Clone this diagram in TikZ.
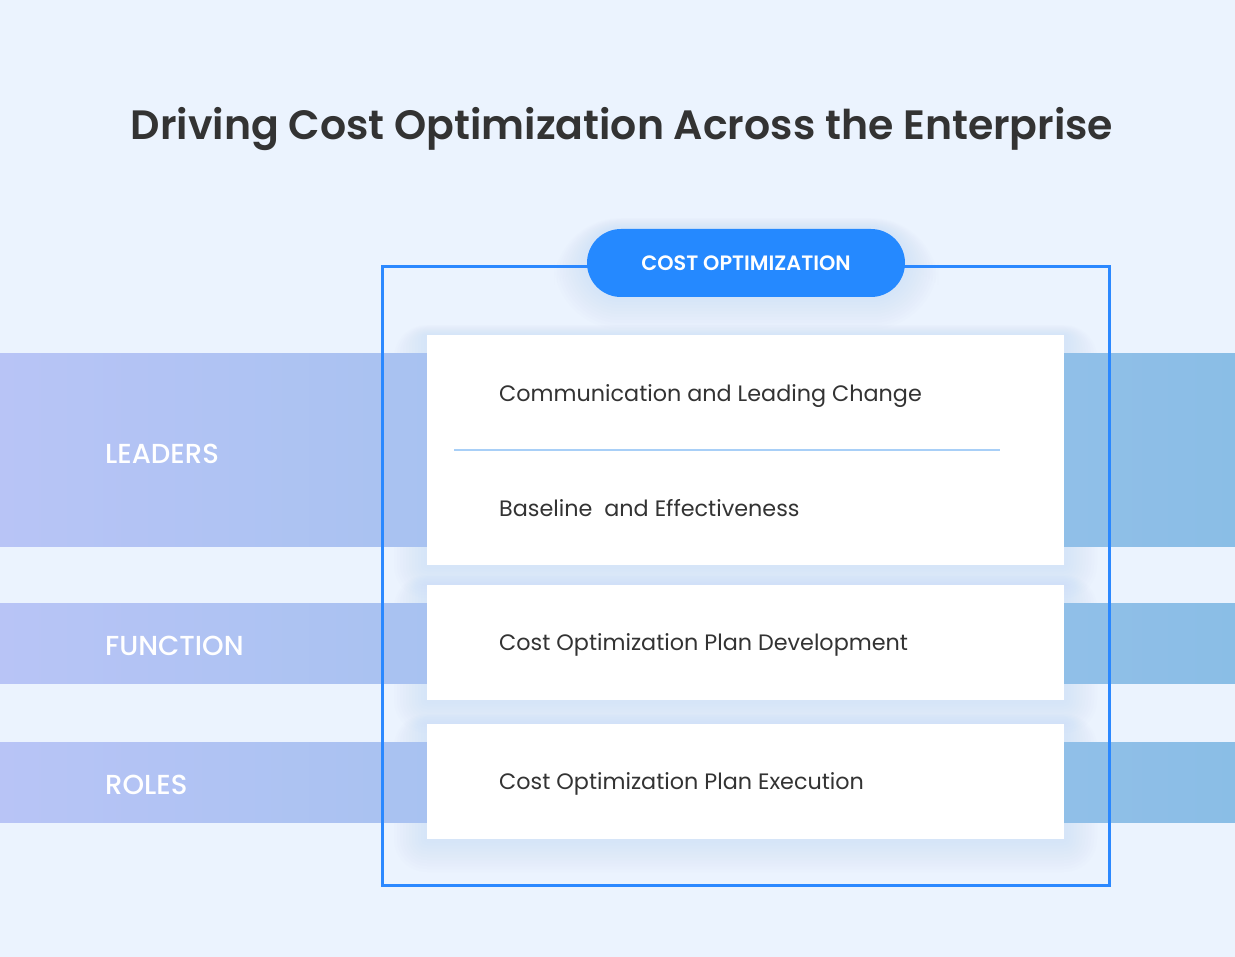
\documentclass[tikz,border=0pt]{standalone}
\usepackage{fontspec}
\setmainfont{Poppins}
\newfontfamily\medfont{Poppins Medium}
\newfontfamily\semifont{Poppins SemiBold}
\usetikzlibrary{positioning}

\definecolor{pagebg}{HTML}{EBF3FE}
\definecolor{inkgray}{HTML}{333333}
\definecolor{framebl}{HTML}{2B88FF}
\definecolor{pillbl}{HTML}{2589FF}
\definecolor{bandlav}{HTML}{B8C4F6}
\definecolor{bandmid}{HTML}{95BAEE}
\definecolor{bandsky}{HTML}{8ABEE6}
\definecolor{sepline}{HTML}{A8CFF7}
\definecolor{glowbl}{HTML}{C4DAF8}

\tikzset{
  card/.style={fill=white, minimum width=637pt, inner sep=0pt},
  item/.style={anchor=west, inner sep=0pt, text=inkgray, font=\fontsize{22.3}{26}\selectfont},
  bandlabel/.style={anchor=west, inner sep=0pt, text=white, font=\medfont\fontsize{27.5}{32}\selectfont},
  pill/.style={fill=pillbl, rounded corners=34pt, minimum width=318pt, minimum height=68pt,
    text=white, font=\semifont\fontsize{20.8}{25}\selectfont}
}

\begin{document}
\begin{tikzpicture}[x=1pt, y=-1pt]
  \fill[pagebg] (0,0) rectangle (1235,957);
  \useasboundingbox (0,0) rectangle (1235,957);

  \node[text=inkgray, font=\semifont\fontsize{41}{49}\selectfont] (title) at (622,129)
    {Driving Cost Optimization Across the Enterprise};

  % soft glow under the cards and the pill
  \foreach \g in {3,6,...,33} {
    \fill[glowbl, opacity=0.05, rounded corners=\g] (427-\g,335-0.3*\g) rectangle (1064+\g,565+\g);
    \fill[glowbl, opacity=0.05, rounded corners=\g] (427-\g,585-0.3*\g) rectangle (1064+\g,700+\g);
    \fill[glowbl, opacity=0.05, rounded corners=\g] (427-\g,724-0.3*\g) rectangle (1064+\g,839+\g);
    \fill[glowbl, opacity=0.05, rounded corners=34+\g] (587-\g,228-0.3*\g) rectangle (905+\g,296+\g);
  }

  % bands
  \shade[left color=bandlav, middle color=bandmid, right color=bandsky] (0,354) rectangle (1235,546);
  \shade[left color=bandlav, middle color=bandmid, right color=bandsky] (0,603) rectangle (1235,683);
  \shade[left color=bandlav, middle color=bandmid, right color=bandsky] (0,742) rectangle (1235,822);

  % frame
  \draw[framebl, line width=3pt] (382,267) rectangle (1109,885);

  % cards
  \node[card, minimum height=230pt] (lead) at (745.5,450) {};
  \node[card, minimum height=115pt] (func) at (745.5,642.5) {};
  \node[card, minimum height=115pt] (role) at (745.5,781.5) {};

  \coordinate (sepl) at (454,450);
  \coordinate (sepr) at (1000,450);
  \draw[sepline, line width=1.2pt] (sepl) -- (sepr);

  \node[item] (comm) at (499,396) {Communication and Leading Change};
  \node[item] (base) at (499,508) {Baseline\ \ and Effectiveness};
  \node[item] (plan) at (499,645) {Cost Optimization Plan Development};
  \node[item] (exec) at (499,784) {Cost Optimization Plan Execution};

  \node[bandlabel] (leaders) at (105,454) {LEADERS};
  \node[bandlabel] (function) at (105,646) {FUNCTION};
  \node[bandlabel] (roles) at (105,785) {ROLES};

  % header pill
  \node[pill] (costopt) at (746,263) {COST OPTIMIZATION};
\end{tikzpicture}
\end{document}
